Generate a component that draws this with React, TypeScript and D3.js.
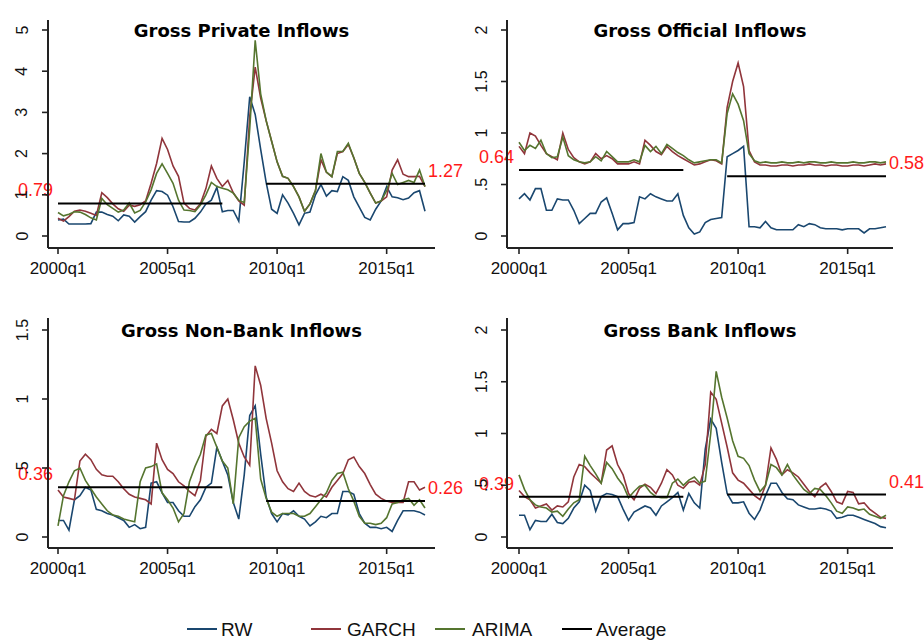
import React from "react";
import * as d3 from "d3";

// ---------- categories ----------
const quarters: string[] = [];
for (let y = 2000; y <= 2016; y++) for (let q = 1; q <= 4; q++) quarters.push(`${y}q${q}`);
const xTickLabels = ["2000q1", "2005q1", "2010q1", "2015q1"];
const seriesNames = ["RW", "GARCH", "ARIMA", "Average"];

// ---------- Gross Private Inflows ----------
const privateRW = [0.39,0.41,0.29,0.29,0.29,0.29,0.30,0.58,0.58,0.52,0.48,0.37,0.51,0.48,0.34,0.47,0.59,0.87,1.10,1.08,0.99,0.71,0.35,0.34,0.34,0.43,0.58,0.78,0.87,1.18,0.59,0.62,0.62,0.36,1.80,3.38,2.95,2.10,1.30,0.65,0.55,1.00,0.80,0.55,0.27,0.55,0.58,1.00,1.25,0.97,1.10,1.08,1.44,1.35,0.95,0.70,0.45,0.39,0.65,0.85,1.20,0.95,0.93,0.88,0.92,1.05,1.10,0.60];
const privateGARCH = [0.43,0.36,0.47,0.60,0.63,0.60,0.55,0.50,1.05,0.93,0.78,0.66,0.60,0.75,0.72,0.76,0.85,1.28,1.76,2.37,2.10,1.70,1.45,0.80,0.67,0.63,0.78,1.15,1.70,1.40,1.20,1.35,1.05,0.85,0.75,2.90,4.10,3.35,2.80,2.30,1.80,1.45,1.40,1.20,0.95,0.60,0.78,1.10,1.85,1.55,1.44,2.00,2.05,2.22,1.90,1.52,1.30,1.04,0.80,0.85,0.95,1.60,1.85,1.50,1.44,1.44,1.45,1.20];
const privateARIMA = [0.57,0.49,0.53,0.59,0.58,0.52,0.44,0.39,0.91,0.76,0.67,0.58,0.63,0.80,0.56,0.62,0.83,1.12,1.52,1.75,1.52,1.28,0.87,0.63,0.62,0.59,0.75,1.00,1.30,1.20,1.16,1.12,1.04,0.87,0.81,2.60,4.75,3.45,2.80,2.30,1.80,1.45,1.40,1.20,0.95,0.60,0.78,1.10,2.00,1.55,1.44,2.05,2.05,2.25,1.90,1.52,1.30,1.04,0.80,0.85,1.10,1.52,1.25,1.30,1.35,1.30,1.60,1.20];
const privateAvg = [0.79, 1.27];

// ---------- Gross Official Inflows ----------
const officialRW = [0.36,0.41,0.35,0.46,0.46,0.25,0.25,0.36,0.35,0.35,0.25,0.12,0.17,0.22,0.22,0.33,0.37,0.22,0.06,0.12,0.12,0.13,0.38,0.36,0.41,0.38,0.36,0.34,0.34,0.41,0.20,0.08,0.02,0.04,0.13,0.16,0.17,0.18,0.77,0.80,0.83,0.87,0.09,0.09,0.08,0.14,0.08,0.06,0.06,0.06,0.06,0.11,0.09,0.12,0.11,0.08,0.07,0.07,0.07,0.06,0.07,0.07,0.07,0.03,0.07,0.07,0.08,0.09];
const officialGARCH = [0.87,0.80,1.00,0.97,0.88,0.80,0.77,0.74,1.00,0.84,0.76,0.72,0.70,0.72,0.80,0.75,0.78,0.75,0.70,0.70,0.70,0.72,0.70,0.93,0.88,0.82,0.79,0.87,0.82,0.78,0.75,0.72,0.69,0.70,0.72,0.74,0.73,0.70,1.25,1.50,1.68,1.45,0.83,0.72,0.69,0.69,0.68,0.68,0.69,0.69,0.68,0.69,0.69,0.70,0.69,0.69,0.68,0.69,0.69,0.68,0.68,0.69,0.69,0.68,0.69,0.70,0.69,0.70];
const officialARIMA = [0.91,0.83,0.88,0.85,0.93,0.80,0.76,0.77,0.96,0.78,0.74,0.72,0.71,0.72,0.77,0.73,0.82,0.77,0.72,0.72,0.72,0.74,0.72,0.88,0.82,0.87,0.80,0.89,0.85,0.81,0.78,0.74,0.71,0.72,0.73,0.74,0.74,0.71,1.19,1.38,1.28,1.12,0.80,0.73,0.71,0.72,0.71,0.71,0.72,0.71,0.71,0.72,0.71,0.72,0.72,0.71,0.71,0.72,0.71,0.71,0.71,0.72,0.71,0.71,0.72,0.72,0.71,0.72];
const officialAvg = [0.64, 0.58];

// ---------- Gross Non-Bank Inflows ----------
const nonbankRW = [0.12,0.12,0.05,0.27,0.30,0.36,0.34,0.20,0.19,0.17,0.16,0.14,0.12,0.07,0.09,0.06,0.07,0.39,0.40,0.32,0.25,0.25,0.19,0.15,0.15,0.22,0.27,0.36,0.39,0.65,0.55,0.45,0.25,0.13,0.45,0.88,0.95,0.60,0.29,0.17,0.11,0.17,0.16,0.19,0.15,0.13,0.08,0.11,0.15,0.14,0.17,0.17,0.33,0.33,0.31,0.17,0.10,0.07,0.07,0.06,0.07,0.04,0.12,0.19,0.19,0.19,0.18,0.16];
const nonbankGARCH = [0.34,0.29,0.28,0.27,0.55,0.60,0.56,0.49,0.45,0.44,0.44,0.40,0.35,0.31,0.29,0.28,0.27,0.24,0.68,0.56,0.49,0.46,0.40,0.37,0.33,0.30,0.41,0.73,0.78,0.75,0.95,1.00,0.85,0.68,0.58,0.52,1.24,1.10,0.86,0.68,0.48,0.40,0.35,0.33,0.39,0.33,0.30,0.29,0.31,0.29,0.36,0.41,0.46,0.56,0.58,0.51,0.46,0.38,0.31,0.28,0.26,0.25,0.25,0.25,0.40,0.40,0.34,0.36];
const nonbankARIMA = [0.08,0.30,0.40,0.48,0.50,0.41,0.35,0.29,0.24,0.19,0.16,0.15,0.13,0.12,0.11,0.40,0.50,0.51,0.53,0.32,0.27,0.21,0.11,0.17,0.40,0.51,0.60,0.74,0.75,0.65,0.55,0.50,0.24,0.72,0.80,0.84,0.86,0.42,0.28,0.18,0.15,0.17,0.17,0.17,0.15,0.15,0.17,0.22,0.27,0.32,0.41,0.46,0.47,0.35,0.26,0.15,0.10,0.10,0.09,0.10,0.14,0.24,0.25,0.27,0.28,0.23,0.27,0.21];
const nonbankAvg = [0.36, 0.26];

// ---------- Gross Bank Inflows ----------
const bankRW = [0.21,0.21,0.07,0.16,0.15,0.15,0.22,0.14,0.13,0.18,0.28,0.34,0.50,0.45,0.25,0.39,0.42,0.41,0.39,0.27,0.16,0.24,0.27,0.30,0.28,0.21,0.30,0.34,0.38,0.43,0.26,0.42,0.33,0.28,0.85,1.14,1.05,0.72,0.42,0.33,0.33,0.34,0.23,0.17,0.26,0.40,0.52,0.52,0.43,0.37,0.36,0.31,0.29,0.27,0.27,0.28,0.27,0.25,0.18,0.19,0.21,0.21,0.19,0.17,0.15,0.13,0.10,0.09];
const bankGARCH = [0.45,0.39,0.36,0.28,0.30,0.32,0.26,0.30,0.29,0.34,0.58,0.70,0.68,0.62,0.57,0.52,0.84,0.88,0.70,0.60,0.42,0.36,0.47,0.51,0.48,0.42,0.52,0.65,0.60,0.50,0.47,0.53,0.54,0.50,0.70,1.40,1.33,1.10,0.87,0.62,0.55,0.52,0.46,0.40,0.36,0.50,0.86,0.75,0.60,0.65,0.62,0.58,0.51,0.44,0.39,0.48,0.52,0.44,0.34,0.32,0.44,0.43,0.32,0.33,0.27,0.23,0.19,0.18];
const bankARIMA = [0.60,0.46,0.36,0.31,0.29,0.28,0.24,0.25,0.20,0.27,0.33,0.36,0.78,0.69,0.61,0.52,0.72,0.66,0.57,0.50,0.38,0.44,0.49,0.50,0.43,0.39,0.38,0.38,0.52,0.56,0.50,0.55,0.58,0.52,0.54,1.00,1.60,1.35,1.15,0.93,0.78,0.76,0.69,0.55,0.44,0.50,0.70,0.67,0.60,0.70,0.60,0.53,0.46,0.42,0.47,0.46,0.40,0.33,0.25,0.23,0.29,0.28,0.26,0.27,0.22,0.20,0.18,0.21];
const bankAvg = [0.39, 0.41];

const avgLabels = [["0.79", "1.27"], ["0.64", "0.58"], ["0.36", "0.26"], ["0.39", "0.41"]];
const yTickSets = [
  ["0", "1", "2", "3", "4", "5"],
  ["0", ".5", "1", "1.5", "2"],
  ["0", ".5", "1", "1.5"],
  ["0", ".5", "1", "1.5", "2"],
];
const yMaxes = [5, 2, 1.5, 2];
const titles = ["Gross Private Inflows", "Gross Official Inflows", "Gross Non-Bank Inflows", "Gross Bank Inflows"];
const preRange = [0, 30];
const postRange = [38, 67];

const COLORS = { rw: "#1a476f", garch: "#90353b", arima: "#55752f", avg: "#000000" };

const panels = [
  { rw: privateRW, garch: privateGARCH, arima: privateARIMA, avg: privateAvg },
  { rw: officialRW, garch: officialGARCH, arima: officialARIMA, avg: officialAvg },
  { rw: nonbankRW, garch: nonbankGARCH, arima: nonbankARIMA, avg: nonbankAvg },
  { rw: bankRW, garch: bankGARCH, arima: bankARIMA, avg: bankAvg },
];

const layout = [
  { axisX: 48, x0: 58, x1: 425, y0: 236, y1: 30, axisY: 248, top: 20, right: 435, titleY: 37 },
  { axisX: 507, x0: 519, x1: 886, y0: 236, y1: 30, axisY: 248, top: 20, right: 893, titleY: 37 },
  { axisX: 48, x0: 58, x1: 425, y0: 537, y1: 330, axisY: 548, top: 318, right: 435, titleY: 337 },
  { axisX: 507, x0: 519, x1: 886, y0: 537, y1: 330, axisY: 548, top: 318, right: 893, titleY: 337 },
];

const axisFont = "'Liberation Sans', Arial, sans-serif";

function Panel({ idx }: { idx: number }) {
  const L = layout[idx];
  const P = panels[idx];
  const yMax = yMaxes[idx];
  const x = d3.scaleLinear().domain([0, quarters.length - 1]).range([L.x0, L.x1]);
  const y = d3.scaleLinear().domain([0, yMax]).range([L.y0, L.y1]);
  const line = d3.line<number>().x((_, i) => x(i)).y((d) => y(d));
  const tickIdx = xTickLabels.map((t) => quarters.indexOf(t));
  const yTicks = yTickSets[idx];
  const cx = (L.axisX + L.right) / 2;
  const preY = y(P.avg[0]);
  const postY = y(P.avg[1]);
  return (
    <g>
      <text x={cx} y={L.titleY} textAnchor="middle" fontFamily="'DejaVu Sans', Verdana, sans-serif" fontWeight="bold" fontSize={18} fill="#000">
        {titles[idx]}
      </text>
      {/* data lines */}
      <path d={line(P.rw) || ""} fill="none" stroke={COLORS.rw} strokeWidth={1.6} />
      <path d={line(P.garch) || ""} fill="none" stroke={COLORS.garch} strokeWidth={1.6} />
      <path d={line(P.arima) || ""} fill="none" stroke={COLORS.arima} strokeWidth={1.6} />
      {/* averages */}
      <line x1={x(preRange[0])} x2={x(preRange[1])} y1={preY} y2={preY} stroke={COLORS.avg} strokeWidth={2} />
      <line x1={x(postRange[0])} x2={x(postRange[1])} y1={postY} y2={postY} stroke={COLORS.avg} strokeWidth={2} />
      <text x={x(0) - 5} y={preY - 7} textAnchor="end" fontFamily={axisFont} fontSize={18} fill="#ff1a1a">{avgLabels[idx][0]}</text>
      <text x={x(quarters.length - 1) + 3} y={postY - 7} textAnchor="start" fontFamily={axisFont} fontSize={18} fill="#ff1a1a">{avgLabels[idx][1]}</text>
      {/* axes */}
      <line x1={L.axisX} x2={L.axisX} y1={L.top} y2={L.axisY} stroke="#222" strokeWidth={2} />
      <line x1={L.axisX} x2={L.right} y1={L.axisY} y2={L.axisY} stroke="#222" strokeWidth={2} />
      {yTicks.map((t) => {
        const yy = y(parseFloat(t));
        const tx = L.axisX - 26;
        return (
          <g key={t}>
            <line x1={L.axisX - 6} x2={L.axisX} y1={yy} y2={yy} stroke="#222" strokeWidth={1.6} />
            <text x={tx} y={yy} transform={`rotate(-90 ${tx} ${yy})`} textAnchor="middle" dominantBaseline="central" fontFamily={axisFont} fontSize={16} fill="#111">
              {t}
            </text>
          </g>
        );
      })}
      {tickIdx.map((ti, k) => (
        <g key={k}>
          <line x1={x(ti)} x2={x(ti)} y1={L.axisY} y2={L.axisY + 6} stroke="#222" strokeWidth={1.6} />
          <text x={x(ti)} y={L.axisY + 26} textAnchor="middle" fontFamily={axisFont} fontSize={17} fill="#111">
            {xTickLabels[k]}
          </text>
        </g>
      ))}
    </g>
  );
}

const legendLayout = [
  { lx: 187, tx: 221 },
  { lx: 311, tx: 347 },
  { lx: 435, tx: 472 },
  { lx: 562, tx: 596 },
];
const legendColors = [COLORS.rw, COLORS.garch, COLORS.arima, COLORS.avg];

export default function App() {
  return (
    <svg width={924} height={642} style={{ position: "absolute", left: 0, top: 0, background: "#fff" }}>
      <rect x={0} y={0} width={924} height={642} fill="#fff" />
      {[0, 1, 2, 3].map((i) => (
        <Panel key={i} idx={i} />
      ))}
      {seriesNames.map((n, i) => (
        <g key={n}>
          <line x1={legendLayout[i].lx} x2={legendLayout[i].lx + 30} y1={629} y2={629} stroke={legendColors[i]} strokeWidth={2} />
          <text x={legendLayout[i].tx} y={636} fontFamily={axisFont} fontSize={19} fill="#111">{n}</text>
        </g>
      ))}
    </svg>
  );
}
